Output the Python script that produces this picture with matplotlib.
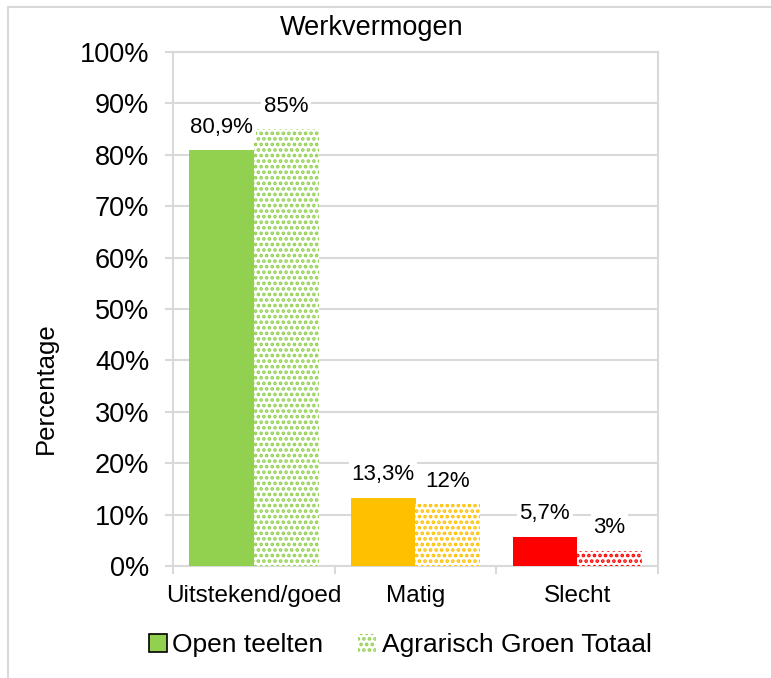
import matplotlib.pyplot as plt
import matplotlib.patches as mpatches
import numpy as np

plt.rcParams['font.family'] = ['Liberation Sans', 'DejaVu Sans']
plt.rcParams['hatch.linewidth'] = 1.8

categories = ['Uitstekend/goed', 'Matig', 'Slecht']
open_teelten = [80.9, 13.3, 5.7]
agrarisch_groen = [85, 12, 3]
labels_open = ['80,9%', '13,3%', '5,7%']
labels_groen = ['85%', '12%', '3%']
colors = ['#92D050', '#FFC000', '#FF0000']
series_names = ['Open teelten', 'Agrarisch Groen Totaal']

W, H = 771, 678
fig = plt.figure(figsize=(W / 100, H / 100), dpi=100)
ax = fig.add_axes([173 / W, 1 - 566 / H, (658 - 173) / W, (566 - 52) / H])

grid_col = '#D9D9D9'
x = np.arange(len(categories))
bw = 0.4

for i in range(len(categories)):
    ax.bar(x[i] - bw / 2, open_teelten[i], bw, color=colors[i], linewidth=0, zorder=3)
    ax.bar(x[i] + bw / 2, agrarisch_groen[i], bw, facecolor='white', edgecolor=colors[i],
           hatch='...', linewidth=0, zorder=3)
    for xv, val, lab in [(x[i] - bw / 2, open_teelten[i], labels_open[i]),
                         (x[i] + bw / 2, agrarisch_groen[i], labels_groen[i])]:
        ax.annotate(lab, (xv, val), xytext=(0, 9), textcoords='offset points',
                    ha='center', va='bottom', fontsize=16, zorder=4,
                    bbox=dict(facecolor='white', edgecolor='none', pad=2))

ax.set_xlim(-0.5, 2.5)
ax.set_ylim(0, 100)
ax.set_yticks(np.arange(0, 101, 10))
ax.set_yticklabels([f'{v}%' for v in range(0, 101, 10)], fontsize=19.5)
ax.set_xticks(x)
ax.set_xticklabels(categories, fontsize=17.5)
ax.set_xticks([-0.5, 0.5, 1.5, 2.5], minor=True)
ax.tick_params(axis='x', which='major', length=0, pad=14)
ax.tick_params(axis='x', which='minor', length=6, color=grid_col, width=1.5)
ax.tick_params(axis='y', length=6, color=grid_col, width=1.5, pad=11)
ax.grid(axis='y', color=grid_col, linewidth=1.5, zorder=0)
ax.set_axisbelow(True)
for s in ax.spines.values():
    s.set_color(grid_col)
    s.set_linewidth(1.5)

fig.text(372 / W, 1 - 28 / H, 'Werkvermogen', ha='center', va='center', fontsize=19.5)
fig.text(46 / W, 1 - 388 / H, 'Percentage', ha='center', va='center', rotation=90, fontsize=18.5)

handles = [mpatches.Patch(facecolor=colors[0], edgecolor='black', linewidth=1.2),
           mpatches.Patch(facecolor='white', edgecolor=colors[0], hatch='...', linewidth=0)]
fig.legend(handles, series_names, loc='center', bbox_to_anchor=(400 / W, 1 - 645 / H),
           ncol=2, frameon=False, fontsize=19, handlelength=0.7, handleheight=0.7,
           handletextpad=0.2, columnspacing=1.3)

frame = mpatches.Rectangle((8 / W, -0.1), 1.2, 1 - 7 / H + 0.1, transform=fig.transFigure,
                           fill=False, edgecolor=grid_col, linewidth=1.5, clip_on=False)
fig.patches.append(frame)

fig.savefig('out.png', dpi=100)
